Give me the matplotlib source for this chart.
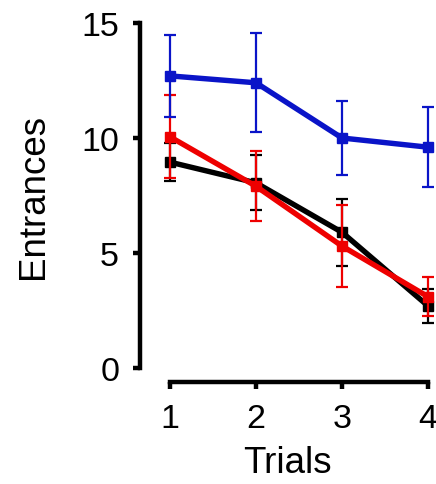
import matplotlib
matplotlib.use("Agg")
import matplotlib.pyplot as plt

plt.rcParams["font.family"] = ["Liberation Sans", "DejaVu Sans"]

# 데이터
trials = [1, 2, 3, 4]
blue_mean = [12.7, 12.4, 10.0, 9.6]
blue_err = [1.8, 2.15, 1.6, 1.75]
black_mean = [8.95, 8.05, 5.9, 2.7]
black_err = [0.82, 1.2, 1.45, 0.73]
red_mean = [10.05, 7.9, 5.3, 3.1]
red_err = [1.8, 1.53, 1.77, 0.85]

fig = plt.figure(figsize=(4.36, 4.85), dpi=100)
ax = fig.add_axes([140 / 436, 116 / 485, 294 / 436, 345 / 485])

style = dict(marker="s", markersize=7.5, linewidth=3.9, elinewidth=1.6,
             capsize=4, capthick=1.6, clip_on=False)
ax.errorbar(trials, black_mean, yerr=black_err, color="black", zorder=3, **style)
ax.errorbar(trials, red_mean, yerr=red_err, color="#ee0000", zorder=4, **style)
ax.errorbar(trials, blue_mean, yerr=blue_err, color="#0a14c8", zorder=5, **style)

ax.set_xlim(0.65, 4.07)
ax.set_ylim(0, 15)
ax.set_xticks(trials)
ax.set_yticks([0, 5, 10, 15])

for s in ["top", "right"]:
    ax.spines[s].set_visible(False)
for s in ["left", "bottom"]:
    ax.spines[s].set_linewidth(3.2)
ax.spines["bottom"].set_position(("outward", 10))
ax.spines["bottom"].set_bounds(1, 4)
ax.spines["left"].set_bounds(0, 15)

ax.tick_params(width=3.2, length=5, labelsize=24.5, direction="out")
ax.tick_params(axis="y", pad=10)
ax.tick_params(axis="x", pad=10)

ax.set_xlabel("Trials", fontsize=26.5, labelpad=8)
ax.set_ylabel("Entrances", fontsize=26.5, labelpad=22)

fig.savefig("out.png", dpi=100)
